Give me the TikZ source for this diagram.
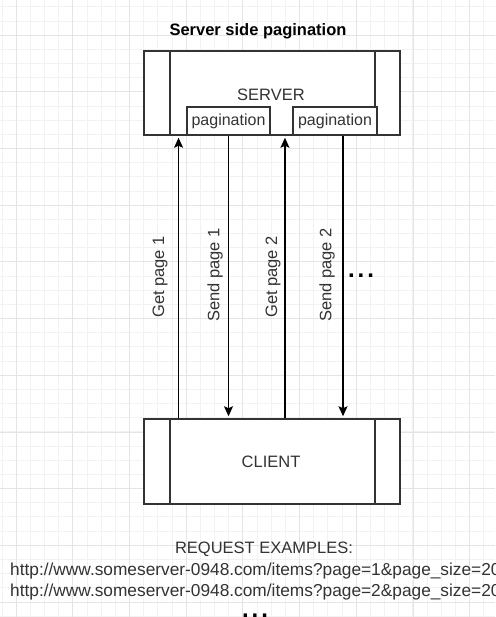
\documentclass[tikz,border=0pt]{standalone}
\usepackage{fontspec}
\setmainfont{Liberation Sans}
\usetikzlibrary{arrows.meta,calc}
\definecolor{ink}{HTML}{333333}
\definecolor{gridmajor}{HTML}{E4E4E4}
\definecolor{gridminor}{HTML}{F2F2F2}
\tikzset{
  x=1pt, y=-1pt,
  box/.style={draw=ink, line width=1.5pt, fill=white, inner sep=0pt},
  tag/.style={box, line width=1.2pt, minimum width=83pt, minimum height=28pt,
              font=\fontsize{16}{18}\selectfont, text=ink},
  lbl/.style={font=\fontsize{16.5}{19}\selectfont, text=ink, inner sep=0pt},
  vlbl/.style={lbl, rotate=90},
  dots/.style={font=\bfseries\fontsize{24}{24}\selectfont, text=black, inner sep=0pt,
               text height=4pt, text depth=0pt, anchor=base},
  msg/.style={draw=black, line width=1.3pt, shorten >=2pt,
              -{Stealth[length=10pt,width=9pt,inset=2pt]}},
  url/.style={font=\fontsize{17.3}{20}\selectfont, text=ink, inner sep=0pt, anchor=west},
}
\newcommand{\moredots}{.\kern3pt.\kern3pt.}
\begin{document}
\begin{tikzpicture}
  \clip (0,0) rectangle (495,617);
  \fill[white] (0,0) rectangle (495,617);
  % background grid: faint minor lines, stronger majors
  \foreach \i in {-1,...,36} {
    \draw[gridminor, line width=0.6pt] ({16+14.17*\i},0) -- ({16+14.17*\i},617);
  }
  \foreach \i in {-3,...,43} {
    \draw[gridminor, line width=0.6pt] (0,{35+14.17*\i}) -- (495,{35+14.17*\i});
  }
  \foreach \i in {0,...,8} {
    \draw[gridmajor, line width=0.8pt] ({16+56.7*\i},0) -- ({16+56.7*\i},617);
  }
  \foreach \i in {-1,...,10} {
    \draw[gridmajor, line width=0.8pt] (0,{35+56.7*\i}) -- (495,{35+56.7*\i});
  }

  % title
  \node[font=\bfseries\fontsize{16.5}{19}\selectfont, text=black] (title) at (258,31) {Server side pagination};

  % server process box
  \node[box, minimum width=256pt, minimum height=84pt] (srv) at (272,93) {};
  \draw[draw=ink, line width=1.5pt] ([xshift=26.7pt]srv.north west) -- ([xshift=26.7pt]srv.south west);
  \draw[draw=ink, line width=1.5pt] ([xshift=-26pt]srv.north east) -- ([xshift=-26pt]srv.south east);
  \node[lbl] (srvtxt) at (271,95) {SERVER};
  \node[tag] (p1) at (228.5,121) {pagination};
  \node[tag, minimum width=84pt] (p2) at (335,121) {pagination};

  % client process box
  \node[box, minimum width=256pt, minimum height=85pt] (cli) at (272,461.5) {};
  \draw[draw=ink, line width=1.5pt] ([xshift=26.7pt]cli.north west) -- ([xshift=26.7pt]cli.south west);
  \draw[draw=ink, line width=1.5pt] ([xshift=-26pt]cli.north east) -- ([xshift=-26pt]cli.south east);
  \node[lbl] (clitxt) at (271,462) {CLIENT};

  % request / response messages
  \coordinate (g1) at ([xshift=35.3pt]cli.north west);
  \coordinate (g2) at ([xshift=141.7pt]cli.north west);
  \coordinate (s2) at ([xshift=8pt]p2.south);
  \draw[msg] (g1) -- (g1 |- srv.south);
  \draw[msg] (p1.south) -- (p1.south |- cli.north);
  \draw[msg] (g2) -- (g2 |- srv.south);
  \draw[msg] (s2) -- (s2 |- cli.north);

  \node[vlbl] (lg1) at (160,277) {Get page 1};
  \node[vlbl] (ls1) at (215,275) {Send page 1};
  \node[vlbl] (lg2) at (273,277) {Get page 2};
  \node[vlbl] (ls2) at (327,275) {Send page 2};
  \node[dots] (more) at (361,277) {\moredots};

  % request examples
  \node[lbl] (req) at (264,549) {REQUEST EXAMPLES:};
  \node[url] (u1) at (10,571) {http://www.someserver-0948.com/items?page=1\&page\_size=20};
  \node[url] (u2) at (10,592) {http://www.someserver-0948.com/items?page=2\&page\_size=20};
  \node[dots] (more2) at (255,617) {\moredots};
\end{tikzpicture}
\end{document}
